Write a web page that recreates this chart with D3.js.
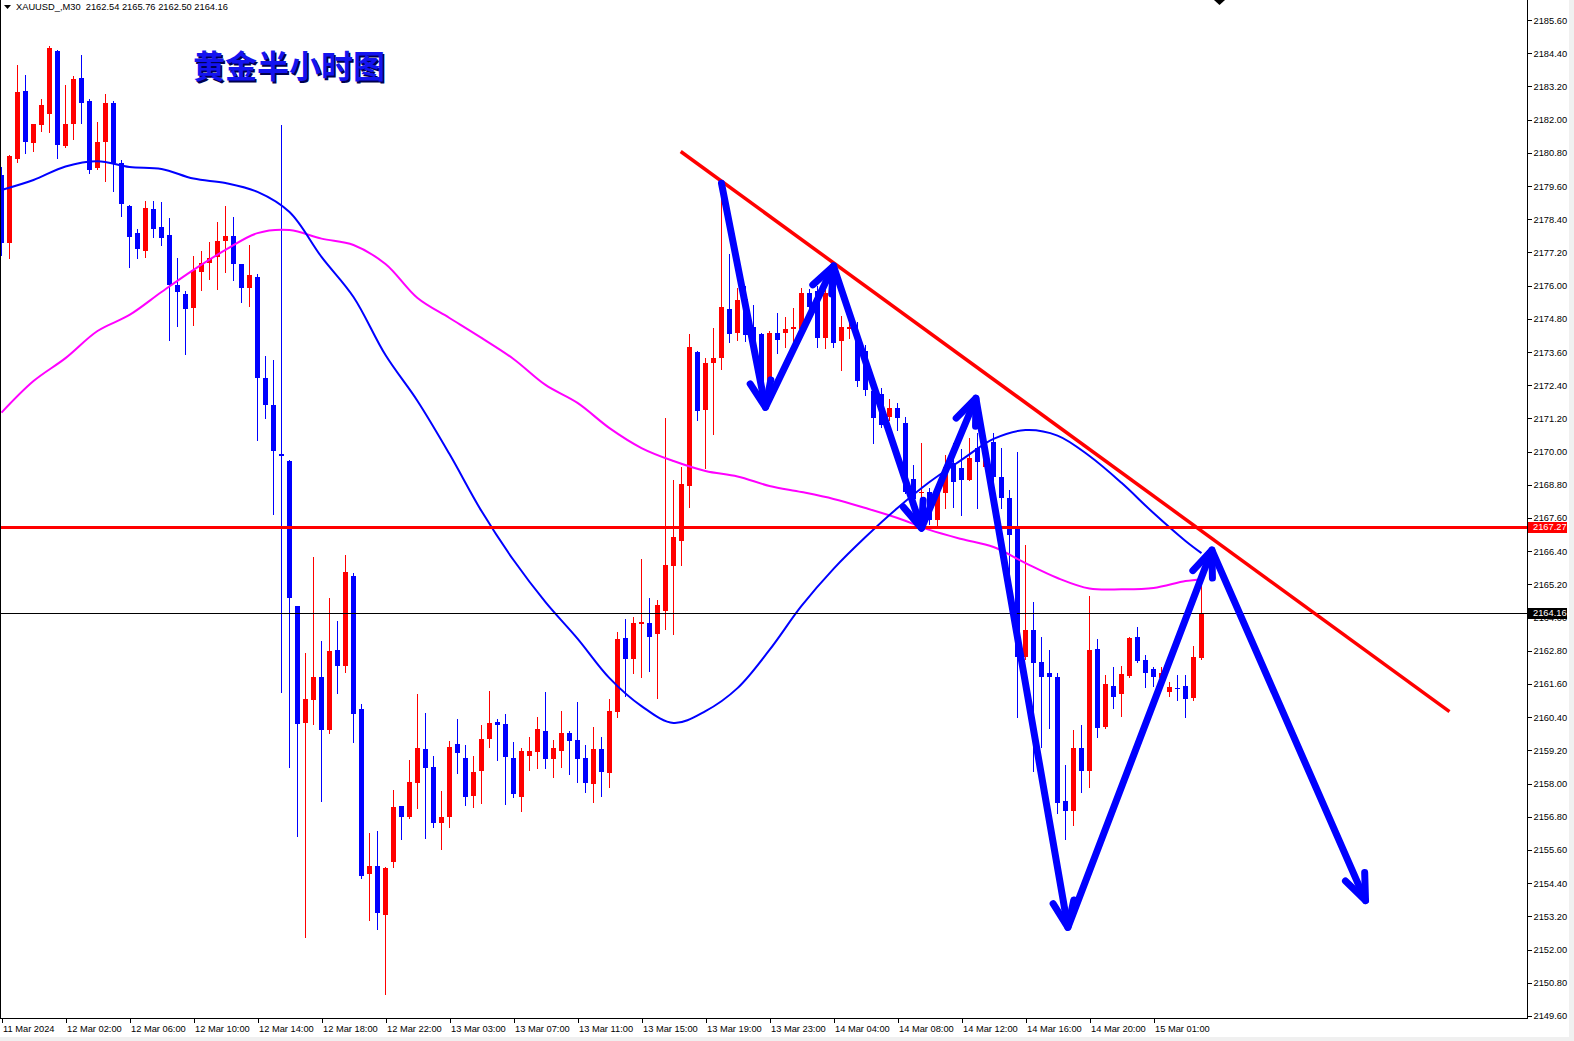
<!DOCTYPE html>
<html><head><meta charset="utf-8">
<script src="https://cdn.jsdelivr.net/npm/d3@7"></script>
<style>html,body{margin:0;padding:0;background:#fff;overflow:hidden}svg{display:block}</style>
</head><body>
<svg id="c" width="1574" height="1041"></svg>
<script>
// ---- DATA (XAUUSD M30) ----
const opens = [2180.00,2177.54,2180.58,2183.04,2181.17,2181.81,2182.21,2184.48,2181.05,2181.84,
2183.51,2182.67,2180.26,2181.20,2182.59,2180.42,2178.88,2177.89,2177.26,2178.76,
2178.11,2177.83,2176.02,2175.70,2175.18,2176.50,2176.81,2177.02,2177.62,2177.79,
2176.78,2175.93,2176.31,2172.65,2171.68,2169.92,2169.65,2164.42,2160.20,2161.03,
2161.84,2159.92,2162.84,2162.25,2165.50,2160.71,2154.73,2155.02,2153.25,2155.16,
2157.19,2156.78,2158.01,2159.24,2158.59,2156.59,2156.80,2159.43,2158.91,2157.56,
2158.46,2159.61,2160.21,2160.15,2158.91,2157.52,2159.00,2159.14,2159.89,2158.87,
2159.19,2159.84,2159.57,2158.91,2157.98,2159.24,2158.37,2160.60,2163.26,2162.52,
2163.77,2163.80,2163.40,2164.22,2165.87,2166.78,2168.75,2173.60,2171.50,2173.20,
2173.40,2175.17,2174.30,2175.50,2174.50,2174.24,2172.39,2174.30,2174.30,2174.45,
2174.43,2175.75,2175.79,2174.10,2176.28,2173.99,2174.45,2174.24,2173.62,2172.20,
2172.10,2171.26,2171.57,2171.04,2169.00,2168.49,2168.55,2167.53,2168.51,2169.60,
2169.39,2168.97,2170.12,2169.45,2170.36,2169.09,2168.31,2167.28,2162.56,2163.55,
2162.40,2161.99,2161.86,2157.38,2157.02,2159.27,2158.46,2162.85,2160.06,2161.53,
2161.23,2161.89,2163.29,2162.46,2162.14,2161.80,2161.32,2161.45,2161.53,2161.08,
2162.54];
const highs = [2180.30,2180.72,2183.98,2183.62,2181.84,2182.75,2184.65,2184.52,2183.25,2183.58,
2184.34,2182.75,2181.93,2182.93,2182.68,2180.54,2178.92,2178.04,2179.05,2179.05,
2179.01,2178.43,2176.99,2175.82,2177.07,2177.25,2177.59,2178.29,2178.88,2178.49,
2176.80,2177.47,2176.41,2173.47,2173.30,2181.80,2169.71,2164.42,2162.71,2166.19,
2163.15,2164.72,2163.86,2166.25,2165.60,2160.87,2156.20,2156.30,2155.00,2157.77,
2157.19,2158.85,2161.24,2160.54,2158.99,2157.74,2159.54,2160.33,2159.39,2159.00,
2160.11,2161.34,2160.33,2160.51,2159.50,2159.30,2159.69,2160.39,2161.32,2159.57,
2160.61,2159.91,2160.96,2159.39,2160.06,2159.69,2161.05,2163.49,2163.96,2164.03,
2166.10,2164.69,2164.64,2171.20,2168.96,2169.43,2174.24,2173.65,2173.40,2174.46,
2179.60,2177.14,2175.91,2176.00,2175.30,2174.30,2174.35,2175.01,2174.86,2175.20,
2175.91,2175.87,2176.00,2175.91,2176.50,2174.92,2174.70,2174.70,2173.85,2172.50,
2172.30,2171.89,2171.75,2171.26,2169.50,2170.30,2168.70,2168.73,2169.88,2170.30,
2170.10,2170.50,2170.66,2170.24,2170.66,2170.12,2168.60,2170.00,2166.64,2164.57,
2163.29,2162.84,2161.99,2158.67,2159.94,2160.12,2164.78,2163.22,2161.92,2162.21,
2162.25,2163.30,2163.67,2162.65,2162.20,2162.20,2161.68,2161.92,2161.92,2162.99,
2165.76];
const lows = [2177.10,2177.00,2180.48,2180.80,2180.88,2181.60,2181.57,2180.60,2181.00,2181.30,
2181.89,2180.06,2180.20,2179.79,2179.43,2178.53,2176.68,2176.99,2177.05,2177.77,
2177.47,2174.03,2174.55,2173.52,2174.58,2175.84,2176.23,2175.87,2176.50,2176.20,
2175.42,2175.26,2170.42,2171.23,2167.74,2161.30,2158.59,2156.10,2152.47,2160.16,
2157.38,2159.81,2161.28,2162.05,2159.51,2154.57,2153.05,2152.74,2150.40,2155.00,
2155.98,2156.74,2157.13,2156.02,2156.42,2155.62,2156.42,2158.39,2157.22,2157.16,
2157.28,2159.33,2158.85,2157.26,2157.52,2157.02,2158.49,2158.56,2158.56,2158.23,
2158.59,2158.35,2158.04,2157.70,2157.34,2157.55,2157.88,2160.39,2161.18,2161.98,
2161.84,2162.06,2161.10,2163.60,2163.40,2165.91,2168.01,2171.16,2169.40,2170.64,
2173.00,2173.96,2174.02,2174.00,2173.60,2172.00,2172.15,2173.56,2173.78,2173.90,
2174.40,2175.17,2173.80,2173.75,2173.80,2172.95,2174.10,2172.37,2172.05,2170.30,
2170.90,2171.14,2170.78,2168.49,2167.80,2167.29,2167.40,2167.35,2167.95,2168.00,
2167.70,2168.97,2167.95,2169.40,2167.95,2167.95,2165.30,2160.41,2162.50,2158.46,
2159.33,2160.02,2156.92,2156.00,2156.50,2157.68,2157.88,2159.69,2160.00,2160.72,
2160.45,2161.84,2162.40,2161.50,2161.53,2161.50,2161.18,2161.02,2160.39,2161.02,
2162.50];
const closes = [2177.54,2180.69,2183.01,2181.20,2181.84,2182.53,2184.58,2181.08,2181.84,2183.47,
2182.61,2180.18,2181.18,2182.59,2180.42,2178.94,2177.77,2177.31,2178.80,2178.04,
2177.71,2176.02,2175.78,2175.14,2176.57,2176.81,2176.99,2177.61,2177.79,2176.77,
2175.93,2176.38,2172.65,2171.70,2170.01,2169.85,2164.69,2160.16,2161.07,2161.84,
2159.92,2162.80,2162.25,2165.63,2160.52,2154.67,2155.02,2153.31,2154.94,2157.16,
2156.78,2158.04,2159.27,2158.57,2156.59,2156.78,2159.31,2159.09,2157.50,2158.41,
2159.60,2160.18,2160.11,2158.95,2157.62,2159.17,2159.17,2159.96,2158.87,2159.27,
2159.84,2159.55,2158.87,2158.03,2159.24,2158.43,2160.62,2163.23,2162.50,2163.82,
2163.84,2163.30,2164.44,2165.91,2166.90,2168.82,2173.78,2171.47,2173.20,2173.38,
2175.21,2174.27,2175.48,2174.20,2173.90,2172.20,2174.30,2174.02,2174.43,2174.52,
2175.75,2175.21,2174.12,2175.72,2173.93,2174.49,2174.50,2172.54,2172.23,2171.20,
2170.96,2171.57,2171.20,2168.55,2168.30,2168.55,2167.53,2168.49,2169.45,2168.90,
2168.97,2169.76,2169.63,2170.12,2169.09,2168.31,2167.00,2162.58,2163.55,2162.37,
2161.84,2161.84,2157.31,2157.02,2159.27,2158.46,2162.83,2160.00,2161.60,2161.14,
2161.95,2163.25,2162.44,2161.99,2161.84,2162.00,2161.50,2161.41,2161.04,2162.56,
2164.16];

// moving averages, read at every 4th bar
const maBars = [0,4,8,12,16,20,24,28,32,36,40,44,48,52,56,60,64,68,72,76,80,84,88,92,96,100,104,108,112,116,120,124,128,132,136,140,144,148,150];
const maFast = [2179.46,2179.82,2180.31,2180.50,2180.29,2180.22,2179.87,2179.71,2179.39,2178.66,
2177.04,2175.59,2173.49,2171.83,2169.91,2167.85,2166.08,2164.56,2163.24,2161.81,
2160.80,2160.19,2160.62,2161.45,2162.83,2164.42,2165.76,2166.91,2167.96,2168.90,
2169.70,2170.46,2170.78,2170.58,2169.84,2168.87,2167.78,2166.77,2166.33];
const maSlow = [2171.41,2172.55,2173.38,2174.36,2174.94,2175.77,2176.57,2177.29,2177.90,2178.01,
2177.70,2177.47,2176.78,2175.55,2174.83,2174.11,2173.35,2172.41,2171.76,2170.85,
2170.13,2169.66,2169.30,2169.10,2168.76,2168.54,2168.29,2167.96,2167.60,2167.17,
2166.84,2166.55,2165.97,2165.43,2165.05,2165.02,2165.07,2165.32,2165.38];

const timeLabelBars = [0,8,16,24,32,40,48,56,64,72,80,88,96,104,112,120,128,136,144];
const timeLabels = ["11 Mar 2024","12 Mar 02:00","12 Mar 06:00","12 Mar 10:00","12 Mar 14:00","12 Mar 18:00","12 Mar 22:00","13 Mar 03:00","13 Mar 07:00","13 Mar 11:00","13 Mar 15:00","13 Mar 19:00","13 Mar 23:00","14 Mar 04:00","14 Mar 08:00","14 Mar 12:00","14 Mar 16:00","14 Mar 20:00","15 Mar 01:00"];
const priceTicks = [2149.60,2150.80,2152.00,2153.20,2154.40,2155.60,2156.80,2158.00,2159.20,2160.40,2161.60,2162.80,2164.00,2165.20,2166.40,2167.60,2168.80,2170.00,2171.20,2172.40,2173.60,2174.80,2176.00,2177.20,2178.40,2179.60,2180.80,2182.00,2183.20,2184.40,2185.60];

const levelLine = 2167.27;
const bidLine = 2164.16;
const trendLine = [[84.9,2180.85],[181.0,2160.60]];
const arrowPath = [[90,2179.70],[95.5,2171.60],[104,2176.71],[115,2167.23],[121.8,2171.93],[133.3,2152.80],[151.3,2166.44],[170.5,2153.77]];
const headerText = "XAUUSD_,M30  2162.54 2165.76 2162.50 2164.16";
const titleText = "黄金半小时图";

// ---- LAYOUT ----
const W = 1574, H = 1041, plotR = 1527, plotB = 1018;
const font = "'Liberation Sans', Arial, sans-serif";
const svg = d3.select("#c");
const x = d3.scaleLinear().domain([0,150]).range([1.5,1201.5]);
const y = d3.scaleLinear().domain([2149.6,2185.6]).range([1015.9,20.1]);

svg.append("rect").attr("width",W).attr("height",H).attr("fill","#fff");
svg.append("rect").attr("x",1569).attr("y",0).attr("width",5).attr("height",H).attr("fill","#f0f0f0");
svg.append("rect").attr("x",0).attr("y",1037).attr("width",W).attr("height",4).attr("fill","#f0f0f0");

svg.append("defs").append("clipPath").attr("id","plot").append("rect").attr("x",0).attr("y",0).attr("width",plotR).attr("height",plotB);
const g = svg.append("g").attr("clip-path","url(#plot)");

const UP = "#ff0000", DN = "#0000ff";
const candles = d3.range(opens.length).map(i=>({i,o:opens[i],h:highs[i],l:lows[i],c:closes[i]}));
const cg = g.append("g");
cg.selectAll("line.w").data(candles).join("line").attr("class","w")
  .attr("x1",d=>x(d.i)).attr("x2",d=>x(d.i))
  .attr("y1",d=>Math.round(y(d.h))).attr("y2",d=>Math.round(y(d.l))+1)
  .attr("stroke",d=>d.c>=d.o?UP:DN).attr("stroke-width",1).attr("shape-rendering","crispEdges");
cg.selectAll("rect.b").data(candles).join("rect").attr("class","b")
  .attr("x",d=>x(d.i)-2.5).attr("width",5)
  .attr("y",d=>Math.round(Math.min(y(d.o),y(d.c))))
  .attr("height",d=>Math.max(1,Math.round(Math.max(y(d.o),y(d.c)))-Math.round(Math.min(y(d.o),y(d.c)))))
  .attr("fill",d=>d.c>=d.o?UP:DN).attr("shape-rendering","crispEdges");

const maLine = d3.line().x(d=>x(d[0])).y(d=>y(d[1])).curve(d3.curveCatmullRom);
g.append("path").attr("d",maLine(maBars.map((b,i)=>[b,maSlow[i]]))).attr("fill","none").attr("stroke","#ff00ff").attr("stroke-width",2);
g.append("path").attr("d",maLine(maBars.map((b,i)=>[b,maFast[i]]))).attr("fill","none").attr("stroke","#0000ff").attr("stroke-width",2);

// horizontal lines
const yl = Math.round(y(levelLine))+0.5, yb = Math.round(y(bidLine))+0.5;
g.append("line").attr("x1",0).attr("x2",plotR).attr("y1",yl).attr("y2",yl).attr("stroke","#ff0000").attr("stroke-width",3);
g.append("line").attr("x1",0).attr("x2",plotR).attr("y1",yb).attr("y2",yb).attr("stroke","#000").attr("stroke-width",1);

// trendline
g.append("line").attr("x1",x(trendLine[0][0])).attr("y1",y(trendLine[0][1])).attr("x2",x(trendLine[1][0])).attr("y2",y(trendLine[1][1]))
  .attr("stroke","#ff0000").attr("stroke-width",3.5);

// arrows
const ag = g.append("g").attr("fill","none").attr("stroke","#0000ff").attr("stroke-width",7).attr("stroke-linecap","round").attr("stroke-linejoin","round");
const pts = arrowPath.map(p=>[x(p[0]),y(p[1])]);
ag.append("path").attr("d",d3.line()(pts));
for(let k=1;k<pts.length;k++){
  const a=pts[k-1], b=pts[k];
  const ang=Math.atan2(b[1]-a[1],b[0]-a[0]), L=28, s=22*Math.PI/180;
  const p1=[b[0]-L*Math.cos(ang-s), b[1]-L*Math.sin(ang-s)];
  const p2=[b[0]-L*Math.cos(ang+s), b[1]-L*Math.sin(ang+s)];
  ag.append("path").attr("d",d3.line()([p1,b,p2]));
}

// axes frame
svg.append("line").attr("x1",0.5).attr("x2",0.5).attr("y1",0).attr("y2",plotB).attr("stroke","#000");
svg.append("line").attr("x1",plotR+0.5).attr("x2",plotR+0.5).attr("y1",0).attr("y2",plotB+1).attr("stroke","#000");
svg.append("line").attr("x1",0).attr("x2",plotR+1).attr("y1",plotB+0.5).attr("y2",plotB+0.5).attr("stroke","#000");

const ya = svg.append("g").attr("transform",`translate(${plotR+0.5},0)`)
  .call(d3.axisRight(y).tickValues(priceTicks).tickSize(4).tickPadding(2).tickFormat(d=>d.toFixed(2)));
ya.select(".domain").remove();
ya.selectAll("line").attr("stroke","#000").attr("shape-rendering","crispEdges");
ya.selectAll("text").attr("font-family",font).attr("font-size","9.3px").attr("fill","#000");

const xa = svg.append("g").attr("transform",`translate(0,${plotB+0.5})`)
  .call(d3.axisBottom(x).tickValues(timeLabelBars).tickSize(4).tickPadding(3).tickFormat((d,i)=>timeLabels[i]));
xa.select(".domain").remove();
xa.selectAll("line").attr("stroke","#000").attr("shape-rendering","crispEdges");
xa.selectAll("text").attr("font-family",font).attr("font-size","9.3px").attr("fill","#000").attr("text-anchor","start").attr("x",1);

// price label boxes
function priceBox(p, col){
  const yy = Math.round(y(p));
  svg.append("rect").attr("x",plotR+1).attr("y",yy-5).attr("width",39).attr("height",11).attr("fill",col);
  svg.append("text").attr("x",plotR+6).attr("y",yy).attr("dy","0.35em").attr("font-family",font).attr("font-size","9.3px").attr("fill","#fff").text(p.toFixed(2));
}
priceBox(levelLine,"#ff0000");
priceBox(bidLine,"#000000");

// header
svg.append("path").attr("d","M4,5 L11,5 L7.5,9 Z").attr("fill","#000");
svg.append("text").attr("x",16).attr("y",7).attr("dy","0.35em").attr("font-family",font).attr("font-size","9.3px").attr("fill","#000").attr("xml:space","preserve").style("white-space","pre").text(headerText);
// chart shift marker
svg.append("path").attr("d","M1214,0 L1225,0 L1219.5,5 Z").attr("fill","#000");

// title
const tf = "'Noto Sans CJK SC','Noto Sans CJK JP',sans-serif";
svg.append("text").attr("x",194.5).attr("y",79.5).attr("font-family",tf).attr("font-weight",700).attr("font-size","32px").attr("fill","#000050").text(titleText);
svg.append("text").attr("x",193).attr("y",78).attr("font-family",tf).attr("font-weight",700).attr("font-size","32px").attr("fill","#1414f0").text(titleText);
</script>
</body></html>
